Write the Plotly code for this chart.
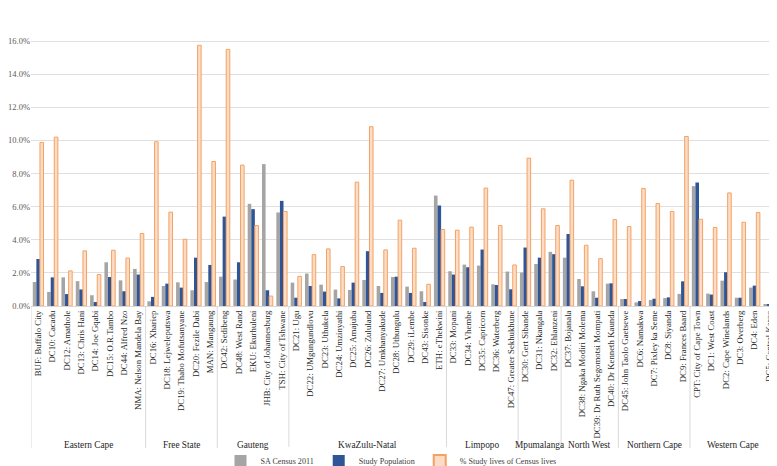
import plotly.graph_objects as go

provinces = ["Eastern Cape"] * 8 + ["Free State"] * 5 + ["Gauteng"] * 5 + ["KwaZulu-Natal"] * 11 + \
    ["Limpopo"] * 5 + ["Mpumalanga"] * 3 + ["North West"] * 4 + ["Northern Cape"] * 5 + ["Western Cape"] * 6

districts = [
    "BUF: Buffalo City", "DC10: Cacadu", "DC12: Amathole", "DC13: Chris Hani", "DC14: Joe Gqabi",
    "DC15: O.R.Tambo", "DC44: Alfred Nzo", "NMA: Nelson Mandela Bay",
    "DC16: Xhariep", "DC18: Lejweleputswa", "DC19: Thabo Mofutsanyane", "DC20: Fezile Dabi", "MAN: Mangaung",
    "DC42: Sedibeng", "DC48: West Rand", "EKU: Ekurhuleni", "JHB: City of Johannesburg", "TSH: City of Tshwane",
    "DC21: Ugu", "DC22: UMgungundlovu", "DC23: Uthukela", "DC24: Umzinyathi", "DC25: Amajuba", "DC26: Zululand",
    "DC27: Umkhanyakude", "DC28: Uthungulu", "DC29: iLembe", "DC43: Sisonke", "ETH: eThekwini",
    "DC33: Mopani", "DC34: Vhembe", "DC35: Capricorn", "DC36: Waterberg", "DC47: Greater Sekhukhune",
    "DC30: Gert Sibande", "DC31: Nkangala", "DC32: Ehlanzeni",
    "DC37: Bojanala", "DC38: Ngaka Modiri Molema", "DC39: Dr Ruth Segomotsi Mompati", "DC40: Dr Kenneth Kaunda",
    "DC45: John Taolo Gaetsewe", "DC6: Namakwa", "DC7: Pixley ka Seme", "DC8: Siyanda", "DC9: Frances Baard",
    "CPT: City of Cape Town", "DC1: West Coast", "DC2: Cape Winelands", "DC3: Overberg", "DC4: Eden",
    "DC5: Central Karoo",
]

census_2011 = [1.45, 0.85, 1.73, 1.50, 0.65, 2.64, 1.55, 2.24,
               0.28, 1.21, 1.43, 0.95, 1.45,
               1.77, 1.60, 6.17, 8.57, 5.65,
               1.41, 1.96, 1.29, 0.99, 0.97, 1.57, 1.21, 1.75, 1.17, 0.89, 6.67,
               2.10, 2.50, 2.44, 1.31, 2.08,
               2.02, 2.54, 3.27,
               2.92, 1.63, 0.89, 1.35,
               0.42, 0.22, 0.36, 0.48, 0.73,
               7.24, 0.75, 1.53, 0.50, 1.11, 0.12]

study_population = [2.84, 1.73, 0.72, 1.00, 0.24, 1.75, 0.89, 1.90,
                    0.55, 1.35, 1.11, 2.92, 2.48,
                    5.40, 2.64, 5.85, 0.95, 6.35,
                    0.50, 1.21, 0.87, 0.46, 1.41, 3.31, 0.79, 1.77, 0.79, 0.24, 6.07,
                    1.90, 2.34, 3.41, 1.27, 1.01,
                    3.53, 2.92, 3.13,
                    4.35, 1.19, 0.50, 1.37,
                    0.42, 0.30, 0.44, 0.52, 1.49,
                    7.46, 0.69, 2.04, 0.50, 1.23, 0.12]

pct_study_of_census = [9.88, 10.20, 2.12, 3.33, 1.90, 3.37, 2.90, 4.38,
                       9.92, 5.67, 4.03, 15.75, 8.73,
                       15.50, 8.51, 4.86, 0.60, 5.71,
                       1.79, 3.10, 3.45, 2.38, 7.48, 10.83, 3.39, 5.18, 3.49, 1.31, 4.62,
                       4.58, 4.76, 7.12, 4.86, 2.48,
                       8.93, 5.87, 4.86,
                       7.60, 3.67, 2.86, 5.22,
                       4.80, 7.10, 6.19, 5.71, 10.24,
                       5.24, 4.74, 6.83, 5.06, 5.65, 4.92]

y_ticks = [0, 2, 4, 6, 8, 10, 12, 14, 16, 18]
y_tick_labels = ["0.0%", "2.0%", "4.0%", "6.0%", "8.0%", "10.0%", "12.0%", "14.0%", "16.0%", "18.0%"]

FONT = "Liberation Serif"
# the page adds an 8px body margin, so the figure is sized to the visible area
OFF = 8
W, H = 777 - OFF, 466 - OFF
M_L, M_R, M_T, M_B = 31 - OFF, 1, 0, 160
plot_h = H - M_T - M_B

def paper_y(page_px):
    # convert a pixel row on the page into paper y units
    return (H - M_B - (page_px - OFF)) / plot_h

fig = go.Figure()
fig.add_trace(go.Bar(x=districts, y=census_2011, name="SA Census 2011",
                     marker=dict(color="#a5a5a5", line=dict(width=0))))
fig.add_trace(go.Bar(x=districts, y=study_population, name="Study Population",
                     marker=dict(color="#2f5597", line=dict(width=0))))
fig.add_trace(go.Bar(x=districts, y=pct_study_of_census, name="% Study lives of Census lives",
                     marker=dict(color="#fbdcc6", line=dict(color="#f4a262", width=1))))

# province group boundaries and labels (derived from the provinces list)
groups = []
start = 0
for i in range(1, len(provinces) + 1):
    if i == len(provinces) or provinces[i] != provinces[start]:
        groups.append((provinces[start], start, i - 1))
        start = i

shapes = []
annotations = []
boundaries = [-0.5] + [g[2] + 0.5 for g in groups]
for b in boundaries:
    shapes.append(dict(type="line", xref="x", yref="paper", x0=b, x1=b,
                       y0=0, y1=paper_y(448), line=dict(color="#d9d9d9", width=1)))
for name, s, e in groups:
    annotations.append(dict(text=name, xref="x", yref="paper", x=(s + e) / 2, y=paper_y(444.5),
                            xanchor="center", yanchor="middle", showarrow=False,
                            font=dict(family=FONT, size=9.3, color="#262626")))

fig.update_layout(
    width=W, height=H,
    margin=dict(l=M_L, r=M_R, t=M_T, b=M_B, autoexpand=False),
    paper_bgcolor="white", plot_bgcolor="white",
    barmode="group", bargap=0.25, bargroupgap=0.0,
    hovermode=False,
    font=dict(family=FONT, size=9, color="#404040"),
    legend=dict(orientation="h", xref="container", yref="container",
                x=(391 - OFF) / W, xanchor="center", y=1 - (461 - OFF) / H, yanchor="middle",
                font=dict(family=FONT, size=8.1, color="#404040"), traceorder="normal",
                itemwidth=30, itemsizing="constant", tracegroupgap=0),
    showlegend=True,
    shapes=shapes,
    annotations=annotations,
)
fig.update_yaxes(range=[0, 18], tickmode="array", tickvals=y_ticks, ticktext=y_tick_labels,
                 showgrid=True, gridcolor="#e0e0e0", gridwidth=1, zeroline=False,
                 showline=False, ticks="", automargin=False, ticklabelstandoff=0,
                 tickfont=dict(family=FONT, size=8.5, color="#595959"))
fig.update_xaxes(type="category", tickangle=-90, showline=True, linecolor="#d9d9d9",
                 linewidth=1, ticks="", automargin=False, range=[-0.5, len(districts) - 0.5],
                 ticklabeloverflow="allow", ticklabelstandoff=0,
                 tickfont=dict(family=FONT, size=8.8, color="#262626"))

fig.write_html("out.html", config={"displayModeBar": False})
